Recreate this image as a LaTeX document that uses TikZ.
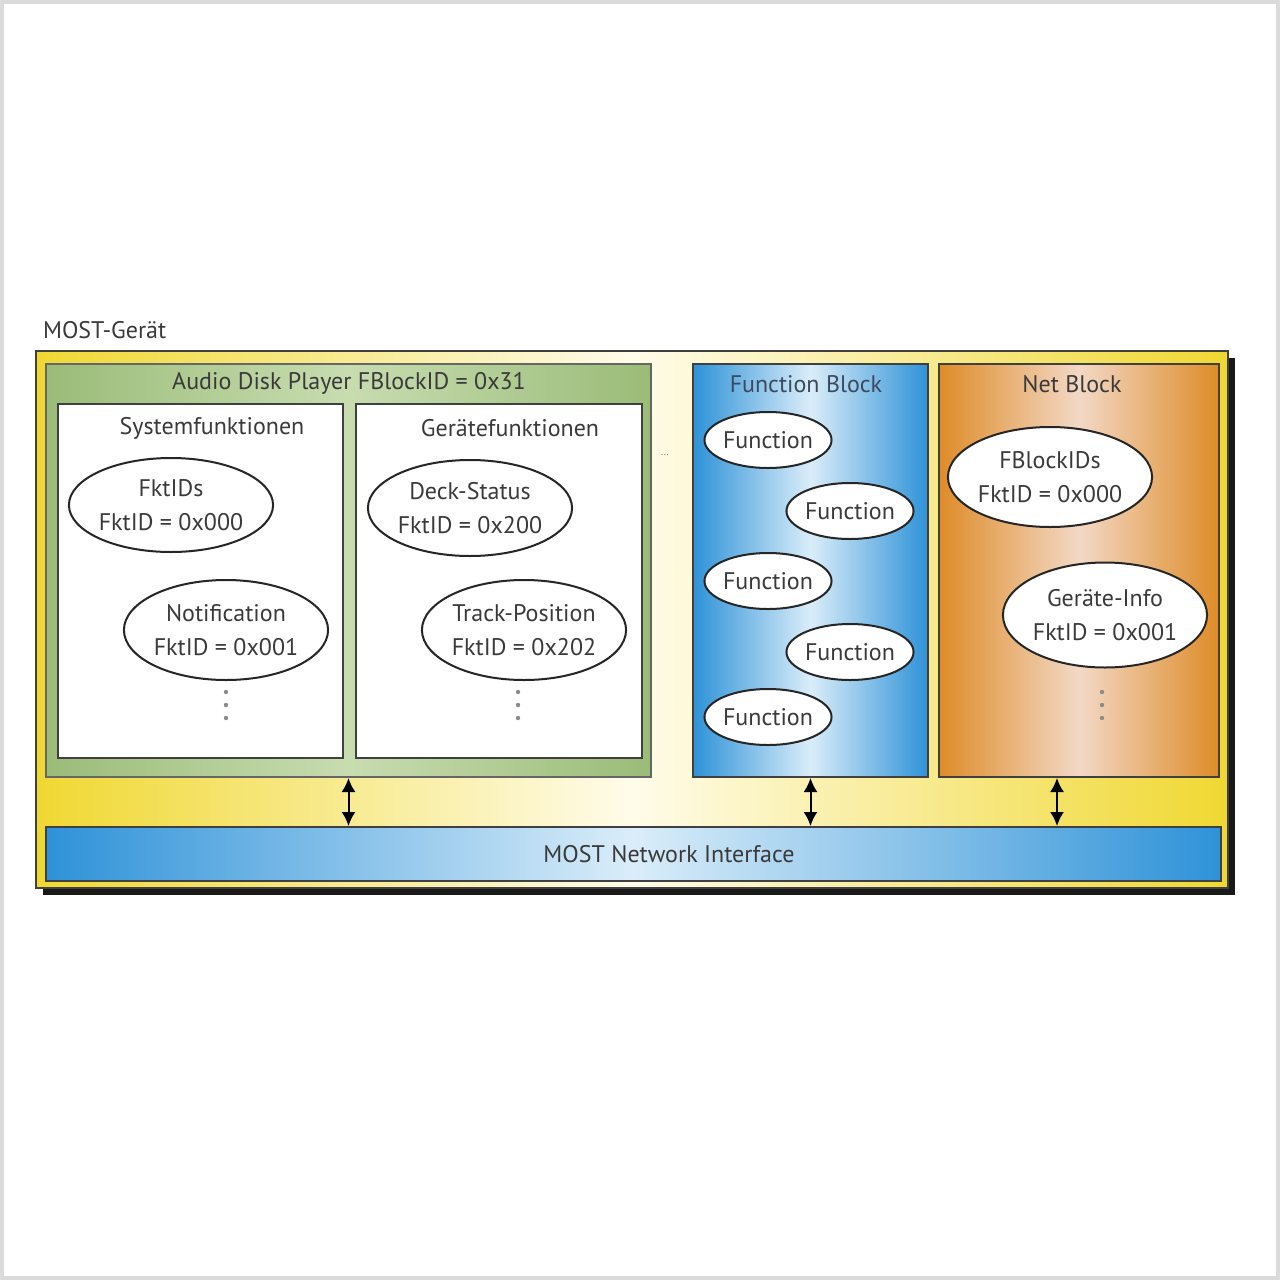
\documentclass[tikz,border=0pt]{standalone}
\usepackage{fontspec}
\setmainfont{PT Sans}
\usetikzlibrary{arrows.meta,shapes.geometric}

\definecolor{gelb}{HTML}{F0D832}
\definecolor{creme}{HTML}{FFFCEA}
\definecolor{gruen}{HTML}{9ABC78}
\definecolor{hellgruen}{HTML}{C8DCB0}
\definecolor{blau}{HTML}{2E92D8}
\definecolor{hellblau}{HTML}{DAEDF9}
\definecolor{netorange}{HTML}{DE8C28}
\definecolor{hellorange}{HTML}{F3D8C6}
\definecolor{schrift}{HTML}{3A3A3A}
\definecolor{fbschrift}{HTML}{3C4A5E}

\tikzset{
  block/.style={draw=black!75, line width=1pt, inner sep=0pt, anchor=north west},
  fkt/.style={ellipse, draw=black!85, line width=1pt, fill=white, inner sep=0pt,
    align=center, text=schrift, font=\fontsize{12}{17}\selectfont},
  titel/.style={text=schrift, font=\fontsize{12}{14}\selectfont},
  pfeil/.style={{Latex[length=7pt,width=7pt]}-{Latex[length=7pt,width=7pt]}, line width=1pt},
}
\newcommand{\punkte}[2]{\foreach \k in {0,1,2} \fill[black!45] (#1,#2+13*\k) circle (1.1pt);}

\begin{document}
\begin{tikzpicture}[x=0.5pt,y=-0.5pt]
  \useasboundingbox (0,0) rectangle (1280,1280);
  \draw[black!14, line width=2pt] (2,2) rectangle (1278,1278);
  \node[titel, anchor=west] (geraet) at (36,330) {MOST-Gerät};

  % MOST-Geraet mit Schatten
  \fill[black!90] (43,358) rectangle (1235,895);
  \node[block, left color=gelb, right color=gelb, middle color=creme,
    minimum width=596pt, minimum height=268.5pt] (most) at (35,350) {};

  % Audio Disk Player
  \node[block, draw=black!60, left color=gruen, right color=gruen, middle color=hellgruen,
    minimum width=302.5pt, minimum height=206.5pt] (adp) at (45,363) {};
  \node[titel] (adptitel) at (349,383) {Audio Disk Player FBlockID = 0x31};
  \node[block, fill=white, minimum width=142.5pt, minimum height=177pt] (sys) at (57,403) {};
  \node[block, fill=white, minimum width=143pt, minimum height=177pt] (ger) at (355,403) {};
  \node[titel] (systitel) at (212,428) {Systemfunktionen};
  \node[titel] (gertitel) at (510,428) {Gerätefunktionen};
  \node[fkt, minimum width=101.5pt, minimum height=47pt] (fktids) at (171,505) {FktIDs\\FktID = 0x000};
  \node[fkt, minimum width=101pt, minimum height=50pt] (notif) at (226,630) {Notification\\FktID = 0x001};
  \node[fkt, minimum width=102pt, minimum height=48pt] (deck) at (470,508) {Deck-Status\\FktID = 0x200};
  \node[fkt, minimum width=101.5pt, minimum height=50pt] (track) at (524,630) {Track-Position\\FktID = 0x202};
  \punkte{226}{692}
  \punkte{518}{692}
  \node[text=black!55, font=\tiny] (mehr) at (665,455) {...};

  % Function Block
  \node[block, left color=blau, right color=blau, middle color=hellblau,
    minimum width=117.5pt, minimum height=206.5pt] (fb) at (692,363) {};
  \node[titel, text=fbschrift] (fbtitel) at (806,384) {Function Block};
  \foreach \x/\y [count=\i] in {768/440, 850/511, 768/581, 850/652, 768/717}
    \node[fkt, minimum width=63pt, minimum height=28pt] (f\i) at (\x,\y) {Function};

  % Net Block
  \node[block, left color=netorange, right color=netorange, middle color=hellorange,
    minimum width=140pt, minimum height=206.5pt] (nb) at (938,363) {};
  \node[titel] (nbtitel) at (1072,384) {Net Block};
  \node[fkt, minimum width=100pt, minimum height=50pt] (fblockids) at (1050,477) {FBlockIDs\\FktID = 0x000};
  \node[fkt, minimum width=100.5pt, minimum height=52.5pt] (info) at (1105,615) {Geräte-Info\\FktID = 0x001};
  \punkte{1102}{692}

  % MOST Network Interface
  \node[block, left color=blau, right color=blau, middle color=hellblau,
    minimum width=587.5pt, minimum height=27pt] (mni) at (45,826) {};
  \node[titel] (mnititel) at (669,854) {MOST Network Interface};

  \coordinate (nbx) at (1057,800);
  \draw[pfeil] (adp.south) -- (adp.south |- mni.north);
  \draw[pfeil] (fb.south) -- (fb.south |- mni.north);
  \draw[pfeil] (nb.south -| nbx) -- (mni.north -| nbx);
\end{tikzpicture}
\end{document}
